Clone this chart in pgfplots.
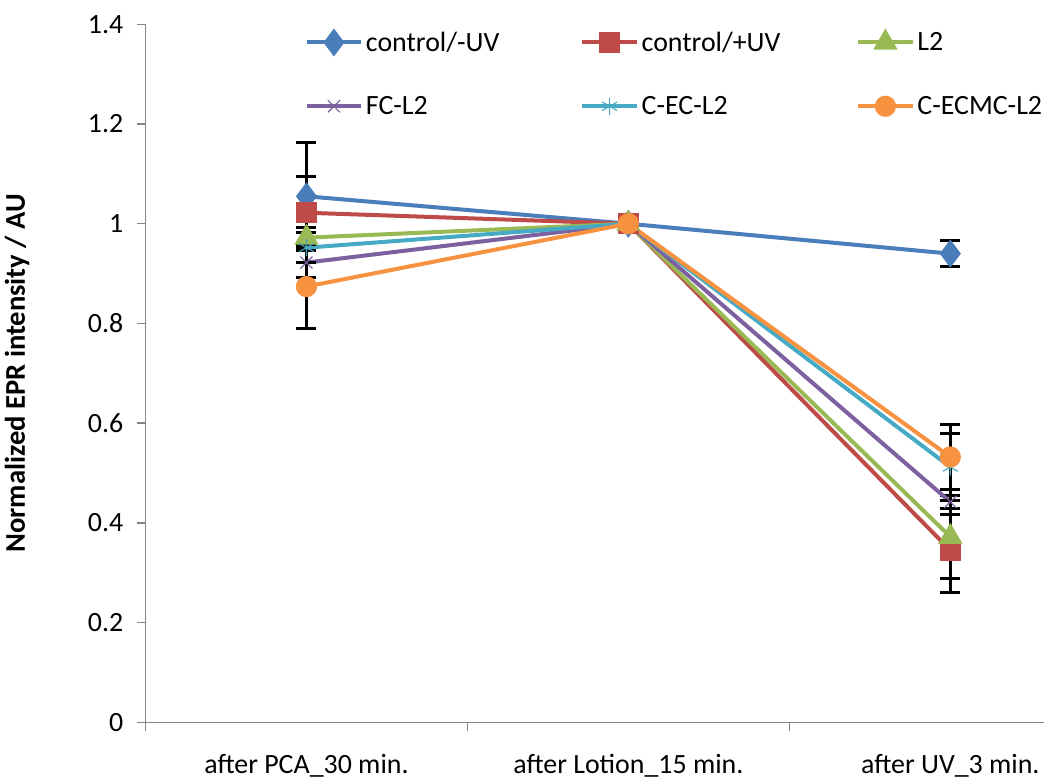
\documentclass[border=0pt]{standalone}
\usepackage{fontspec}
\setmainfont{Carlito}
\usepackage{pgfplots}
\pgfplotsset{compat=1.18}
\definecolor{cblue}{HTML}{4A7EBB}
\definecolor{cred}{HTML}{BE4B48}
\definecolor{cgreen}{HTML}{98B954}
\definecolor{cpurple}{HTML}{7D60A0}
\definecolor{caqua}{HTML}{46AAC5}
\definecolor{corange}{HTML}{F69240}
\definecolor{axgray}{HTML}{868686}

\begin{document}
\begin{tikzpicture}
\begin{axis}[
  scale only axis,
  width=628pt, height=488pt,
  xmin=-0.5, xmax=2.29,
  ymin=0, ymax=1.4,
  ytick={0,0.2,...,1.4},
  xtick={-0.5,0.5,1.5}, xticklabels={},
  extra x ticks={0,1,2},
  extra x tick labels={after PCA\_30 min., after Lotion\_15 min., after UV\_3 min.},
  extra x tick style={major tick length=0pt, xticklabel style={yshift=-19pt}},
  axis x line=bottom, axis y line=left,
  axis line style={-, axgray, line width=1pt},
  tick style={axgray, line width=1pt},
  tick align=outside,
  major tick length=6pt,
  ticklabel style={font=\fontsize{19.5}{22}\selectfont},
  yticklabel style={xshift=-6pt},
  /pgf/number format/assume math mode=true,
  yticklabel style={/pgf/number format/fixed},
  ylabel={\bfseries Normalized EPR intensity / AU},
  ylabel style={font=\fontsize{20}{23}\selectfont, at={(axis description cs:-0.143,0.5)}, anchor=center},
  legend columns=3,
  legend style={draw=none, fill=none, inner sep=0pt, at={(rel axis cs:0.177,1)}, yshift=-3pt, anchor=north west,
    font=\fontsize{19.5}{22}\selectfont, row sep=26pt,
    /tikz/every even column/.append style={column sep=2pt}},
  legend cell align=left,
  legend image code/.code={\draw[mark repeat=2,mark phase=2] plot coordinates {(0pt,0pt) (19pt,0pt) (38pt,0pt)};},
  every axis plot/.append style={line width=2.8pt},
  error bars/y dir=both, error bars/y explicit,
  error bars/error bar style={black, line width=2pt},
  error bars/error mark options={black, rotate=90, mark size=7pt, line width=2pt},
]
\addplot[cblue, mark=diamond*, mark size=7.5pt, mark options={solid}]
  coordinates {(0,1.055) +- (0,0.108) (1,1.0) +- (0,0) (2,0.940) +- (0,0.026)};
\addlegendentry{\makebox[146pt][l]{control/-UV}}
\addplot[cred, mark=square*, mark size=6pt]
  coordinates {(0,1.022) +- (0,0.073) (1,1.0) +- (0,0) (2,0.345) +- (0,0.084)};
\addlegendentry{\makebox[146pt][l]{control/+UV}}
\addplot[cgreen, mark=triangle*, mark size=7pt]
  coordinates {(0,0.972) +- (0,0.02) (1,1.0) +- (0,0) (2,0.372) +- (0,0.083)};
\addlegendentry{L2}
\addplot[cpurple, mark=x, mark size=6pt, mark options={line width=0.8pt}]
  coordinates {(0,0.922) +- (0,0.03) (1,1.0) +- (0,0) (2,0.442) +- (0,0.025)};
\addlegendentry{\makebox[146pt][l]{FC-L2}}
\addplot[caqua, mark=asterisk, mark size=6pt, mark options={line width=0.8pt}]
  coordinates {(0,0.952) +- (0,0.03) (1,1.0) +- (0,0) (2,0.512) +- (0,0.068)};
\addlegendentry{\makebox[146pt][l]{C-EC-L2}}
\addplot[corange, mark=*, mark size=6pt]
  coordinates {(0,0.874) +- (0,0.085) (1,1.0) +- (0,0) (2,0.532) +- (0,0.065)};
\addlegendentry{C-ECMC-L2}
\end{axis}
\path ([yshift=17pt]current axis.north west);
\end{tikzpicture}
\end{document}
